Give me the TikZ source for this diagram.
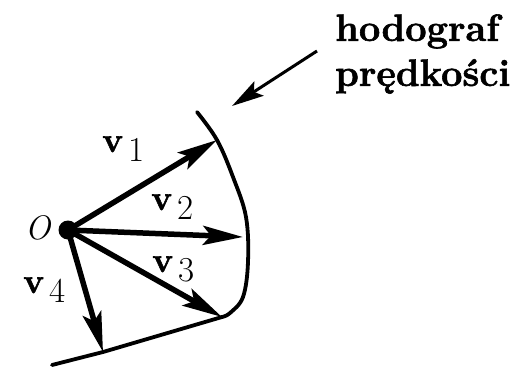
\documentclass[tikz,border=0pt]{standalone}
\usepackage{fontspec}
\usetikzlibrary{arrows.meta}
\newfontfamily\heavyfont{Latin Modern Roman}[BoldFeatures={FakeBold=1.5}]
\newcommand{\vlabel}[1]{\textbf{v}\,\raisebox{-0.28em}{#1}}

\begin{document}
\begin{tikzpicture}[x=1pt,y=-1pt,
    vec/.style={line width=5.5pt,-{Stealth[length=40pt,width=19pt,inset=8pt]}},
    curve/.style={line width=3.8pt,line cap=round,line join=round},
    lab/.style={inner sep=0pt,anchor=base west,font=\fontsize{35}{38}\selectfont\heavyfont}]
  \useasboundingbox (0,0) rectangle (521,369);
  % origin and vector tips
  \node[circle,fill,inner sep=0pt,minimum size=19pt] (O) at (68,230) {};
  \node[inner sep=0pt,font=\fontsize{34}{36}\selectfont] (Olab) at (38,228) {\textit{O}};
  \coordinate (t1) at (217,140);
  \coordinate (t2) at (243,237);
  \coordinate (t3) at (222,317);
  \coordinate (t4) at (103,352);
  \coordinate (end) at (52,365);
  \coordinate (hodotip) at (232,106);
  % hodograph
  \draw[curve] plot[smooth,tension=0.6] coordinates
    {(197,112) (217,140) (233,177) (246,217) (248,262) (243,297) (230,313) (222,317)}
    -- (t4) -- (end);
  \foreach \t in {t1,t2,t3,t4}
    \draw[vec] (O.center) -- (\t);
  \node[lab] (v1) at (102,152) {\vlabel{1}};
  \node[lab] (v2) at (151,210) {\vlabel{2}};
  \node[lab] (v3) at (152,272) {\vlabel{3}};
  \node[lab] (v4) at (23,293) {\vlabel{4}};
  % caption with arrow
  \node[inner sep=0pt,anchor=west,align=left,
        font=\fontsize{38}{45}\selectfont\heavyfont\bfseries] (hodograf) at (335,54)
    {hodograf\\prędkości};
  \draw[line width=3pt,-{Stealth[length=32pt,width=17pt,inset=6pt]}]
    ([shift={(-18,-3)}]hodograf.west) -- (hodotip);
\end{tikzpicture}
\end{document}
